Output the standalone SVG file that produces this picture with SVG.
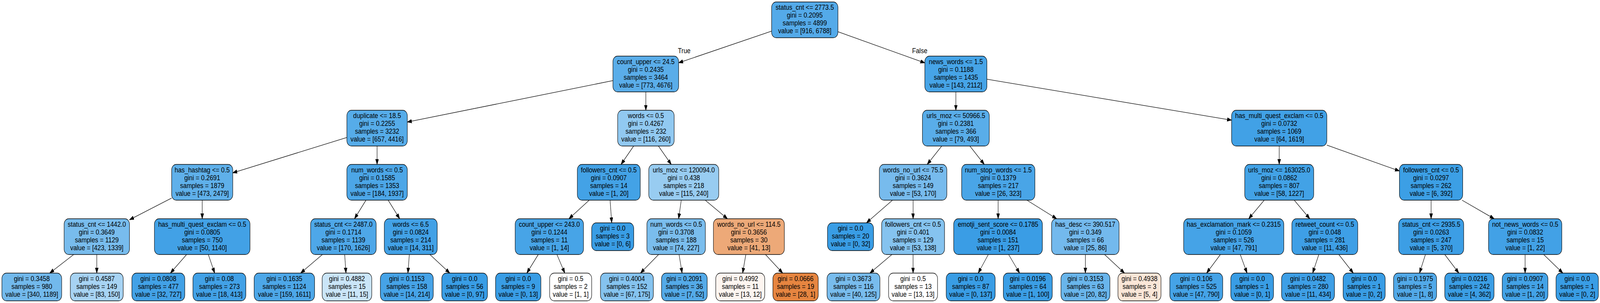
<svg xmlns="http://www.w3.org/2000/svg" width="4871" height="775" viewBox="0 0 4871 775" preserveAspectRatio="none">
<style>
svg{width:100vw;height:100vh}
.n rect{stroke:#000;stroke-width:1.3}
text{font-family:"Liberation Sans",Arial,Helvetica,sans-serif;font-size:19px;text-anchor:middle;fill:#000}
.e line{stroke:#000;stroke-width:1.3;marker-end:url(#ah)}
</style>
<defs>
<marker id="ah" markerUnits="userSpaceOnUse" markerWidth="14" markerHeight="10" refX="13.5" refY="4.7" orient="auto"><path d="M0,0 L13.5,4.7 L0,9.4 z" fill="#000" stroke="#000" stroke-width="1"/></marker>
</defs>
<rect width="4871" height="775" fill="#fff"/>
<g id="connectors" class="e">
<line x1="2349" y1="79.65" x2="2066" y2="160.6"/>
<line x1="2551" y1="81.2" x2="2815.5" y2="160.8"/>
<line x1="1866" y1="206.2" x2="1240" y2="312.2"/>
<line x1="1966.2" y1="235" x2="1966.2" y2="282"/>
<line x1="2910" y1="235" x2="2910" y2="282"/>
<line x1="3004.5" y1="202.55" x2="3749.4" y2="307.35"/>
<line x1="1056" y1="351.7" x2="708.6" y2="442.05"/>
<line x1="1148" y1="373.5" x2="1148" y2="420.5"/>
<line x1="1929.1" y1="373.5" x2="1890.7" y2="420.5"/>
<line x1="2004.45" y1="373.5" x2="2043.55" y2="420.5"/>
<line x1="2867" y1="373.5" x2="2822.8" y2="420.5"/>
<line x1="2952.6" y1="373.5" x2="2996.5" y2="420.5"/>
<line x1="3894.4" y1="373.5" x2="3894.4" y2="420.5"/>
<line x1="4039.4" y1="371.2" x2="4260.4" y2="437.4"/>
<line x1="522.6" y1="506.55" x2="394.2" y2="562.15"/>
<line x1="615.6" y1="512" x2="615.6" y2="559.5"/>
<line x1="1114.2" y1="512" x2="1079.2" y2="559.5"/>
<line x1="1181.7" y1="512" x2="1216.8" y2="559.5"/>
<line x1="1793.8" y1="512" x2="1732" y2="559.5"/>
<line x1="1857.3" y1="512" x2="1862.3" y2="569.75"/>
<line x1="2074" y1="512" x2="2066" y2="559.5"/>
<line x1="2146.9" y1="512" x2="2214.6" y2="559.5"/>
<line x1="2717.1" y1="512" x2="2638" y2="569.75"/>
<line x1="2779.8" y1="512" x2="2779.8" y2="559.5"/>
<line x1="3038.7" y1="512" x2="3038.7" y2="559.5"/>
<line x1="3126.3" y1="512" x2="3216.9" y2="559.5"/>
<line x1="3848.8" y1="512" x2="3801.5" y2="559.5"/>
<line x1="3940.1" y1="512" x2="3987.5" y2="559.5"/>
<line x1="4356.8" y1="512" x2="4356.8" y2="559.5"/>
<line x1="4451" y1="512" x2="4548.9" y2="559.5"/>
<line x1="224.4" y1="651" x2="151.4" y2="698.5"/>
<line x1="294.65" y1="651" x2="294.65" y2="698.5"/>
<line x1="568.1" y1="651" x2="518.8" y2="698.5"/>
<line x1="634.2" y1="651" x2="653.5" y2="698.5"/>
<line x1="981.55" y1="651" x2="915.2" y2="698.5"/>
<line x1="1049.3" y1="651" x2="1053.3" y2="698.5"/>
<line x1="1246.2" y1="651" x2="1241.8" y2="698.5"/>
<line x1="1308.8" y1="651" x2="1369.3" y2="698.5"/>
<line x1="1638.75" y1="651" x2="1603.8" y2="698.5"/>
<line x1="1695.5" y1="651" x2="1719.4" y2="698.5"/>
<line x1="2005.1" y1="651" x2="1949.8" y2="698.5"/>
<line x1="2067.3" y1="651" x2="2076.6" y2="698.5"/>
<line x1="2270.6" y1="651" x2="2260.9" y2="698.5"/>
<line x1="2330.4" y1="651" x2="2382.8" y2="698.5"/>
<line x1="2715.3" y1="651" x2="2648.3" y2="698.5"/>
<line x1="2779.75" y1="651" x2="2779.75" y2="698.5"/>
<line x1="3008.8" y1="651" x2="2978.1" y2="698.5"/>
<line x1="3070.6" y1="651" x2="3104" y2="698.5"/>
<line x1="3304.3" y1="651" x2="3304.3" y2="698.5"/>
<line x1="3362.7" y1="651" x2="3423.5" y2="698.5"/>
<line x1="3715.4" y1="651" x2="3673.3" y2="698.5"/>
<line x1="3775.8" y1="651" x2="3796.5" y2="698.5"/>
<line x1="4015" y1="651" x2="3996.2" y2="698.5"/>
<line x1="4075.8" y1="651" x2="4120" y2="698.5"/>
<line x1="4339.6" y1="651" x2="4321.5" y2="698.5"/>
<line x1="4398.4" y1="651" x2="4441.3" y2="698.5"/>
<line x1="4643" y1="651" x2="4643" y2="698.5"/>
<line x1="4699.5" y1="651" x2="4757.9" y2="698.5"/>
<text x="2083" y="136">True</text>
<text x="2800" y="136">False</text>
</g>
<g id="n0" class="n"><rect x="2349" y="5" width="202" height="91.5" rx="14" fill="#54aae9"/><text x="2450" y="25.5"><tspan x="2450">status_cnt &lt;= 2773.5</tspan><tspan x="2450" dy="20">gini = 0.2095</tspan><tspan x="2450" dy="20">samples = 4899</tspan><tspan x="2450" dy="20">value = [916, 6788]</tspan></text></g>
<g id="n1" class="n"><rect x="1866" y="143.5" width="200" height="91.5" rx="14" fill="#5aade9"/><text x="1966" y="164"><tspan x="1966">count_upper &lt;= 24.5</tspan><tspan x="1966" dy="20">gini = 0.2435</tspan><tspan x="1966" dy="20">samples = 3464</tspan><tspan x="1966" dy="20">value = [773, 4676]</tspan></text></g>
<g id="n2" class="n"><rect x="2815.5" y="143.5" width="189" height="91.5" rx="14" fill="#46a4e7"/><text x="2910" y="164"><tspan x="2910">news_words &lt;= 1.5</tspan><tspan x="2910" dy="20">gini = 0.1188</tspan><tspan x="2910" dy="20">samples = 1435</tspan><tspan x="2910" dy="20">value = [143, 2112]</tspan></text></g>
<g id="n3" class="n"><rect x="1056" y="282" width="184" height="91.5" rx="14" fill="#56ace9"/><text x="1148" y="302.5"><tspan x="1148">duplicate &lt;= 18.5</tspan><tspan x="1148" dy="20">gini = 0.2255</tspan><tspan x="1148" dy="20">samples = 3232</tspan><tspan x="1148" dy="20">value = [657, 4416]</tspan></text></g>
<g id="n4" class="n"><rect x="1880.4" y="282" width="172" height="91.5" rx="14" fill="#91c9f1"/><text x="1966.4" y="302.5"><tspan x="1966.4">words &lt;= 0.5</tspan><tspan x="1966.4" dy="20">gini = 0.4267</tspan><tspan x="1966.4" dy="20">samples = 232</tspan><tspan x="1966.4" dy="20">value = [116, 260]</tspan></text></g>
<g id="n5" class="n"><rect x="2808.25" y="282" width="203.5" height="91.5" rx="14" fill="#59ade9"/><text x="2910" y="302.5"><tspan x="2910">urls_moz &lt;= 50966.5</tspan><tspan x="2910" dy="20">gini = 0.2381</tspan><tspan x="2910" dy="20">samples = 366</tspan><tspan x="2910" dy="20">value = [79, 493]</tspan></text></g>
<g id="n6" class="n"><rect x="3749.4" y="282" width="290" height="91.5" rx="14" fill="#41a1e6"/><text x="3894.4" y="302.5"><tspan x="3894.4">has_multi_quest_exclam &lt;= 0.5</tspan><tspan x="3894.4" dy="20">gini = 0.0732</tspan><tspan x="3894.4" dy="20">samples = 1069</tspan><tspan x="3894.4" dy="20">value = [64, 1619]</tspan></text></g>
<g id="n7" class="n"><rect x="522.6" y="420.5" width="186" height="91.5" rx="14" fill="#5fb0ea"/><text x="615.6" y="441"><tspan x="615.6">has_hashtag &lt;= 0.5</tspan><tspan x="615.6" dy="20">gini = 0.2691</tspan><tspan x="615.6" dy="20">samples = 1879</tspan><tspan x="615.6" dy="20">value = [473, 2479]</tspan></text></g>
<g id="n8" class="n"><rect x="1056" y="420.5" width="184" height="91.5" rx="14" fill="#4ca6e7"/><text x="1148" y="441"><tspan x="1148">num_words &lt;= 0.5</tspan><tspan x="1148" dy="20">gini = 0.1585</tspan><tspan x="1148" dy="20">samples = 1353</tspan><tspan x="1148" dy="20">value = [184, 1937]</tspan></text></g>
<g id="n9" class="n"><rect x="1757.65" y="420.5" width="191.5" height="91.5" rx="14" fill="#43a2e6"/><text x="1853.4" y="441"><tspan x="1853.4">followers_cnt &lt;= 0.5</tspan><tspan x="1853.4" dy="20">gini = 0.0907</tspan><tspan x="1853.4" dy="20">samples = 14</tspan><tspan x="1853.4" dy="20">value = [1, 20]</tspan></text></g>
<g id="n10" class="n"><rect x="1975.1" y="420.5" width="213" height="91.5" rx="14" fill="#98ccf1"/><text x="2081.6" y="441"><tspan x="2081.6">urls_moz &lt;= 120094.0</tspan><tspan x="2081.6" dy="20">gini = 0.438</tspan><tspan x="2081.6" dy="20">samples = 218</tspan><tspan x="2081.6" dy="20">value = [115, 240]</tspan></text></g>
<g id="n11" class="n"><rect x="2677.05" y="420.5" width="205.5" height="91.5" rx="14" fill="#77bbed"/><text x="2779.8" y="441"><tspan x="2779.8">words_no_url &lt;= 75.5</tspan><tspan x="2779.8" dy="20">gini = 0.3624</tspan><tspan x="2779.8" dy="20">samples = 149</tspan><tspan x="2779.8" dy="20">value = [53, 170]</tspan></text></g>
<g id="n12" class="n"><rect x="2927.6" y="420.5" width="223" height="91.5" rx="14" fill="#49a5e7"/><text x="3039.1" y="441"><tspan x="3039.1">num_stop_words &lt;= 1.5</tspan><tspan x="3039.1" dy="20">gini = 0.1379</tspan><tspan x="3039.1" dy="20">samples = 217</tspan><tspan x="3039.1" dy="20">value = [26, 323]</tspan></text></g>
<g id="n13" class="n"><rect x="3789.4" y="420.5" width="210" height="91.5" rx="14" fill="#42a2e6"/><text x="3894.4" y="441"><tspan x="3894.4">urls_moz &lt;= 163025.0</tspan><tspan x="3894.4" dy="20">gini = 0.0862</tspan><tspan x="3894.4" dy="20">samples = 807</tspan><tspan x="3894.4" dy="20">value = [58, 1227]</tspan></text></g>
<g id="n14" class="n"><rect x="4260.4" y="420.5" width="192.6" height="91.5" rx="14" fill="#3c9fe5"/><text x="4356.7" y="441"><tspan x="4356.7">followers_cnt &lt;= 0.5</tspan><tspan x="4356.7" dy="20">gini = 0.0297</tspan><tspan x="4356.7" dy="20">samples = 262</tspan><tspan x="4356.7" dy="20">value = [6, 392]</tspan></text></g>
<g id="n15" class="n"><rect x="195.2" y="559.5" width="199" height="91.5" rx="14" fill="#78bced"/><text x="294.7" y="580"><tspan x="294.7">status_cnt &lt;= 1442.0</tspan><tspan x="294.7" dy="20">gini = 0.3649</tspan><tspan x="294.7" dy="20">samples = 1129</tspan><tspan x="294.7" dy="20">value = [423, 1339]</tspan></text></g>
<g id="n16" class="n"><rect x="470.1" y="559.5" width="291" height="91.5" rx="14" fill="#42a1e6"/><text x="615.6" y="580"><tspan x="615.6">has_multi_quest_exclam &lt;= 0.5</tspan><tspan x="615.6" dy="20">gini = 0.0805</tspan><tspan x="615.6" dy="20">samples = 750</tspan><tspan x="615.6" dy="20">value = [50, 1140]</tspan></text></g>
<g id="n17" class="n"><rect x="945.6" y="559.5" width="199.6" height="91.5" rx="14" fill="#4ea7e8"/><text x="1045.4" y="580"><tspan x="1045.4">status_cnt &lt;= 2487.0</tspan><tspan x="1045.4" dy="20">gini = 0.1714</tspan><tspan x="1045.4" dy="20">samples = 1139</tspan><tspan x="1045.4" dy="20">value = [170, 1626]</tspan></text></g>
<g id="n18" class="n"><rect x="1170" y="559.5" width="161" height="91.5" rx="14" fill="#42a1e6"/><text x="1250.5" y="580"><tspan x="1250.5">words &lt;= 6.5</tspan><tspan x="1250.5" dy="20">gini = 0.0824</tspan><tspan x="1250.5" dy="20">samples = 214</tspan><tspan x="1250.5" dy="20">value = [14, 311]</tspan></text></g>
<g id="n19" class="n"><rect x="1568.4" y="559.5" width="208" height="91.5" rx="14" fill="#47a4e7"/><text x="1672.4" y="580"><tspan x="1672.4">count_upper &lt;= 243.0</tspan><tspan x="1672.4" dy="20">gini = 0.1244</tspan><tspan x="1672.4" dy="20">samples = 11</tspan><tspan x="1672.4" dy="20">value = [1, 14]</tspan></text></g>
<g id="n20" class="n"><rect x="1801.3" y="570" width="128" height="71" rx="14" fill="#399de5"/><text x="1865.3" y="590.5"><tspan x="1865.3">gini = 0.0</tspan><tspan x="1865.3" dy="20">samples = 3</tspan><tspan x="1865.3" dy="20">value = [0, 6]</tspan></text></g>
<g id="n21" class="n"><rect x="1969.4" y="559.5" width="178" height="91.5" rx="14" fill="#7abded"/><text x="2058.4" y="580"><tspan x="2058.4">num_words &lt;= 0.5</tspan><tspan x="2058.4" dy="20">gini = 0.3708</tspan><tspan x="2058.4" dy="20">samples = 188</tspan><tspan x="2058.4" dy="20">value = [74, 227]</tspan></text></g>
<g id="n22" class="n"><rect x="2171.9" y="559.5" width="216" height="91.5" rx="14" fill="#eda978"/><text x="2279.9" y="580"><tspan x="2279.9">words_no_url &lt;= 114.5</tspan><tspan x="2279.9" dy="20">gini = 0.3656</tspan><tspan x="2279.9" dy="20">samples = 30</tspan><tspan x="2279.9" dy="20">value = [41, 13]</tspan></text></g>
<g id="n23" class="n"><rect x="2519.3" y="570" width="140" height="71" rx="14" fill="#399de5"/><text x="2589.3" y="590.5"><tspan x="2589.3">gini = 0.0</tspan><tspan x="2589.3" dy="20">samples = 20</tspan><tspan x="2589.3" dy="20">value = [0, 32]</tspan></text></g>
<g id="n24" class="n"><rect x="2684.05" y="559.5" width="191.5" height="91.5" rx="14" fill="#85c3ef"/><text x="2779.8" y="580"><tspan x="2779.8">followers_cnt &lt;= 0.5</tspan><tspan x="2779.8" dy="20">gini = 0.401</tspan><tspan x="2779.8" dy="20">samples = 129</tspan><tspan x="2779.8" dy="20">value = [53, 138]</tspan></text></g>
<g id="n25" class="n"><rect x="2903.4" y="559.5" width="270" height="91.5" rx="14" fill="#3a9de5"/><text x="3038.4" y="580"><tspan x="3038.4">emotji_sent_score &lt;= 0.1785</tspan><tspan x="3038.4" dy="20">gini = 0.0084</tspan><tspan x="3038.4" dy="20">samples = 151</tspan><tspan x="3038.4" dy="20">value = [1, 237]</tspan></text></g>
<g id="n26" class="n"><rect x="3201.35" y="559.5" width="205.5" height="91.5" rx="14" fill="#73b9ed"/><text x="3304.1" y="580"><tspan x="3304.1">has_desc &lt;= 390.517</tspan><tspan x="3304.1" dy="20">gini = 0.349</tspan><tspan x="3304.1" dy="20">samples = 66</tspan><tspan x="3304.1" dy="20">value = [25, 86]</tspan></text></g>
<g id="n27" class="n"><rect x="3603.4" y="559.5" width="305" height="91.5" rx="14" fill="#45a3e7"/><text x="3755.9" y="580"><tspan x="3755.9">has_exclamation_mark &lt;= 0.2315</tspan><tspan x="3755.9" dy="20">gini = 0.1059</tspan><tspan x="3755.9" dy="20">samples = 526</tspan><tspan x="3755.9" dy="20">value = [47, 791]</tspan></text></g>
<g id="n28" class="n"><rect x="3932.9" y="559.5" width="200.6" height="91.5" rx="14" fill="#3e9fe6"/><text x="4033.2" y="580"><tspan x="4033.2">retweet_count &lt;= 0.5</tspan><tspan x="4033.2" dy="20">gini = 0.048</tspan><tspan x="4033.2" dy="20">samples = 281</tspan><tspan x="4033.2" dy="20">value = [11, 436]</tspan></text></g>
<g id="n29" class="n"><rect x="4258" y="559.5" width="198" height="91.5" rx="14" fill="#3c9ee5"/><text x="4357" y="580"><tspan x="4357">status_cnt &lt;= 2935.5</tspan><tspan x="4357" dy="20">gini = 0.0263</tspan><tspan x="4357" dy="20">samples = 247</tspan><tspan x="4357" dy="20">value = [5, 370]</tspan></text></g>
<g id="n30" class="n"><rect x="4531.7" y="559.5" width="223" height="91.5" rx="14" fill="#42a1e6"/><text x="4643.2" y="580"><tspan x="4643.2">not_news_words &lt;= 0.5</tspan><tspan x="4643.2" dy="20">gini = 0.0832</tspan><tspan x="4643.2" dy="20">samples = 15</tspan><tspan x="4643.2" dy="20">value = [1, 22]</tspan></text></g>
<g id="n31" class="n"><rect x="5.8" y="698.5" width="182" height="71" rx="14" fill="#72b9ec"/><text x="96.8" y="719"><tspan x="96.8">gini = 0.3458</tspan><tspan x="96.8" dy="20">samples = 980</tspan><tspan x="96.8" dy="20">value = [340, 1189]</tspan></text></g>
<g id="n32" class="n"><rect x="214.1" y="698.5" width="161" height="71" rx="14" fill="#a7d3f3"/><text x="294.6" y="719"><tspan x="294.6">gini = 0.4587</tspan><tspan x="294.6" dy="20">samples = 149</tspan><tspan x="294.6" dy="20">value = [83, 150]</tspan></text></g>
<g id="n33" class="n"><rect x="401.5" y="698.5" width="161" height="71" rx="14" fill="#42a1e6"/><text x="482" y="719"><tspan x="482">gini = 0.0808</tspan><tspan x="482" dy="20">samples = 477</tspan><tspan x="482" dy="20">value = [32, 727]</tspan></text></g>
<g id="n34" class="n"><rect x="587.4" y="698.5" width="161" height="71" rx="14" fill="#42a1e6"/><text x="667.9" y="719"><tspan x="667.9">gini = 0.08</tspan><tspan x="667.9" dy="20">samples = 273</tspan><tspan x="667.9" dy="20">value = [18, 413]</tspan></text></g>
<g id="n35" class="n"><rect x="773.7" y="698.5" width="184" height="71" rx="14" fill="#4da7e8"/><text x="865.7" y="719"><tspan x="865.7">gini = 0.1635</tspan><tspan x="865.7" dy="20">samples = 1124</tspan><tspan x="865.7" dy="20">value = [159, 1611]</tspan></text></g>
<g id="n36" class="n"><rect x="980.8" y="698.5" width="151" height="71" rx="14" fill="#cae5f8"/><text x="1056.3" y="719"><tspan x="1056.3">gini = 0.4882</tspan><tspan x="1056.3" dy="20">samples = 15</tspan><tspan x="1056.3" dy="20">value = [11, 15]</tspan></text></g>
<g id="n37" class="n"><rect x="1158" y="698.5" width="161" height="71" rx="14" fill="#46a3e7"/><text x="1238.5" y="719"><tspan x="1238.5">gini = 0.1153</tspan><tspan x="1238.5" dy="20">samples = 158</tspan><tspan x="1238.5" dy="20">value = [14, 214]</tspan></text></g>
<g id="n38" class="n"><rect x="1345" y="698.5" width="139" height="71" rx="14" fill="#399de5"/><text x="1414.5" y="719"><tspan x="1414.5">gini = 0.0</tspan><tspan x="1414.5" dy="20">samples = 56</tspan><tspan x="1414.5" dy="20">value = [0, 97]</tspan></text></g>
<g id="n39" class="n"><rect x="1508.7" y="698.5" width="138" height="71" rx="14" fill="#399de5"/><text x="1577.7" y="719"><tspan x="1577.7">gini = 0.0</tspan><tspan x="1577.7" dy="20">samples = 9</tspan><tspan x="1577.7" dy="20">value = [0, 13]</tspan></text></g>
<g id="n40" class="n"><rect x="1673.3" y="698.5" width="128" height="71" rx="14" fill="#ffffff"/><text x="1737.3" y="719"><tspan x="1737.3">gini = 0.5</tspan><tspan x="1737.3" dy="20">samples = 2</tspan><tspan x="1737.3" dy="20">value = [1, 1]</tspan></text></g>
<g id="n41" class="n"><rect x="1828" y="698.5" width="161" height="71" rx="14" fill="#85c3ef"/><text x="1908.5" y="719"><tspan x="1908.5">gini = 0.4004</tspan><tspan x="1908.5" dy="20">samples = 152</tspan><tspan x="1908.5" dy="20">value = [67, 175]</tspan></text></g>
<g id="n42" class="n"><rect x="2014" y="698.5" width="139" height="71" rx="14" fill="#54aae8"/><text x="2083.5" y="719"><tspan x="2083.5">gini = 0.2091</tspan><tspan x="2083.5" dy="20">samples = 36</tspan><tspan x="2083.5" dy="20">value = [7, 52]</tspan></text></g>
<g id="n43" class="n"><rect x="2179.1" y="698.5" width="149" height="71" rx="14" fill="#fdf5f0"/><text x="2253.6" y="719"><tspan x="2253.6">gini = 0.4992</tspan><tspan x="2253.6" dy="20">samples = 11</tspan><tspan x="2253.6" dy="20">value = [13, 12]</tspan></text></g>
<g id="n44" class="n"><rect x="2353" y="698.5" width="138" height="71" rx="14" fill="#e68540"/><text x="2422" y="719"><tspan x="2422">gini = 0.0666</tspan><tspan x="2422" dy="20">samples = 19</tspan><tspan x="2422" dy="20">value = [28, 1]</tspan></text></g>
<g id="n45" class="n"><rect x="2517.8" y="698.5" width="161" height="71" rx="14" fill="#78bced"/><text x="2598.3" y="719"><tspan x="2598.3">gini = 0.3673</tspan><tspan x="2598.3" dy="20">samples = 116</tspan><tspan x="2598.3" dy="20">value = [40, 125]</tspan></text></g>
<g id="n46" class="n"><rect x="2705.2" y="698.5" width="149" height="71" rx="14" fill="#ffffff"/><text x="2779.7" y="719"><tspan x="2779.7">gini = 0.5</tspan><tspan x="2779.7" dy="20">samples = 13</tspan><tspan x="2779.7" dy="20">value = [13, 13]</tspan></text></g>
<g id="n47" class="n"><rect x="2880.6" y="698.5" width="149" height="71" rx="14" fill="#399de5"/><text x="2955.1" y="719"><tspan x="2955.1">gini = 0.0</tspan><tspan x="2955.1" dy="20">samples = 87</tspan><tspan x="2955.1" dy="20">value = [0, 137]</tspan></text></g>
<g id="n48" class="n"><rect x="3054.5" y="698.5" width="149" height="71" rx="14" fill="#3b9ee5"/><text x="3129" y="719"><tspan x="3129">gini = 0.0196</tspan><tspan x="3129" dy="20">samples = 64</tspan><tspan x="3129" dy="20">value = [1, 100]</tspan></text></g>
<g id="n49" class="n"><rect x="3230" y="698.5" width="149" height="71" rx="14" fill="#69b5eb"/><text x="3304.5" y="719"><tspan x="3304.5">gini = 0.3153</tspan><tspan x="3304.5" dy="20">samples = 63</tspan><tspan x="3304.5" dy="20">value = [20, 82]</tspan></text></g>
<g id="n50" class="n"><rect x="3403.5" y="698.5" width="131" height="71" rx="14" fill="#fae6d7"/><text x="3469" y="719"><tspan x="3469">gini = 0.4938</tspan><tspan x="3469" dy="20">samples = 3</tspan><tspan x="3469" dy="20">value = [5, 4]</tspan></text></g>
<g id="n51" class="n"><rect x="3561.4" y="698.5" width="161" height="71" rx="14" fill="#45a3e7"/><text x="3641.9" y="719"><tspan x="3641.9">gini = 0.106</tspan><tspan x="3641.9" dy="20">samples = 525</tspan><tspan x="3641.9" dy="20">value = [47, 790]</tspan></text></g>
<g id="n52" class="n"><rect x="3747" y="698.5" width="130" height="71" rx="14" fill="#399de5"/><text x="3812" y="719"><tspan x="3812">gini = 0.0</tspan><tspan x="3812" dy="20">samples = 1</tspan><tspan x="3812" dy="20">value = [0, 1]</tspan></text></g>
<g id="n53" class="n"><rect x="3901.6" y="698.5" width="161" height="71" rx="14" fill="#3e9fe6"/><text x="3982.1" y="719"><tspan x="3982.1">gini = 0.0482</tspan><tspan x="3982.1" dy="20">samples = 280</tspan><tspan x="3982.1" dy="20">value = [11, 434]</tspan></text></g>
<g id="n54" class="n"><rect x="4089" y="698.5" width="128" height="71" rx="14" fill="#399de5"/><text x="4153" y="719"><tspan x="4153">gini = 0.0</tspan><tspan x="4153" dy="20">samples = 1</tspan><tspan x="4153" dy="20">value = [0, 2]</tspan></text></g>
<g id="n55" class="n"><rect x="4242.5" y="698.5" width="131" height="71" rx="14" fill="#52a9e8"/><text x="4308" y="719"><tspan x="4308">gini = 0.1975</tspan><tspan x="4308" dy="20">samples = 5</tspan><tspan x="4308" dy="20">value = [1, 8]</tspan></text></g>
<g id="n56" class="n"><rect x="4398.4" y="698.5" width="150" height="71" rx="14" fill="#3b9ee5"/><text x="4473.4" y="719"><tspan x="4473.4">gini = 0.0216</tspan><tspan x="4473.4" dy="20">samples = 242</tspan><tspan x="4473.4" dy="20">value = [4, 362]</tspan></text></g>
<g id="n57" class="n"><rect x="4573.4" y="698.5" width="139" height="71" rx="14" fill="#43a2e6"/><text x="4642.9" y="719"><tspan x="4642.9">gini = 0.0907</tspan><tspan x="4642.9" dy="20">samples = 14</tspan><tspan x="4642.9" dy="20">value = [1, 20]</tspan></text></g>
<g id="n58" class="n"><rect x="4737.1" y="698.5" width="129" height="71" rx="14" fill="#399de5"/><text x="4801.6" y="719"><tspan x="4801.6">gini = 0.0</tspan><tspan x="4801.6" dy="20">samples = 1</tspan><tspan x="4801.6" dy="20">value = [0, 2]</tspan></text></g>
</svg>
